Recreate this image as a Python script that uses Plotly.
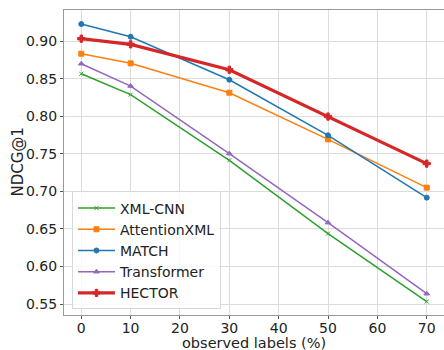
import plotly.graph_objects as go

x_labels = [0, 10, 30, 50, 70]
xml_cnn = [0.8565, 0.8286, 0.7413, 0.6437, 0.5533]
attention_xml = [0.8831, 0.8703, 0.8312, 0.7691, 0.7049]
match = [0.9226, 0.9057, 0.8485, 0.7745, 0.6916]
transformer = [0.8698, 0.8401, 0.7502, 0.6583, 0.5637]
hector = [0.9031, 0.8956, 0.8618, 0.7995, 0.7369]

series = [
    ("XML-CNN", xml_cnn, "#2ca02c", "x-thin-open", 1.5, 4),
    ("AttentionXML", attention_xml, "#ff7f0e", "square", 1.5, 5),
    ("MATCH", match, "#1f77b4", "circle", 1.5, 5),
    ("Transformer", transformer, "#9467bd", "triangle-up", 1.5, 5),
    ("HECTOR", hector, "#d62728", "cross", 3.2, 6),
]

fig = go.Figure()
for name, vals, color, sym, lw, ms in series:
    fig.add_trace(go.Scatter(
        x=x_labels, y=vals, name=name, mode="lines+markers",
        line=dict(color=color, width=lw),
        marker=dict(symbol=sym, size=ms, color=color, line=dict(color=color, width=1)),
    ))

font = "DejaVu Sans, sans-serif"
fig.update_layout(
    width=444, height=350,
    margin=dict(l=64, r=0, t=10, b=35, autoexpand=False),
    paper_bgcolor="white", plot_bgcolor="white",
    font=dict(family=font, size=14, color="#222"),
    legend=dict(
        x=0.021, y=0.405, xanchor="left", yanchor="top",
        bgcolor="rgba(255,255,255,0.8)", bordercolor="#d8d8d8", borderwidth=1,
        font=dict(size=14), itemwidth=37,
    ),
    showlegend=True,
    annotations=[
        dict(text="observed labels (%)", xref="paper", yref="paper", x=0.5, y=0,
             yshift=-28, xanchor="center", yanchor="middle", showarrow=False,
             font=dict(size=14.5)),
        dict(text="NDCG@1", xref="paper", yref="paper", x=0, y=0.5,
             xshift=-47, xanchor="center", yanchor="middle", showarrow=False,
             textangle=-90, font=dict(size=15)),
    ],
)
fig.update_xaxes(
    range=[-3.5, 73.5], tickvals=[0, 10, 20, 30, 40, 50, 60, 70],
    showgrid=True, gridcolor="#dcdcdc", gridwidth=1,
    showline=True, linecolor="#999999", linewidth=1.2, mirror=True,
    ticks="outside", ticklen=3, tickcolor="#555", ticklabelstandoff=-3,
    zeroline=False, automargin=False,
)
fig.update_yaxes(
    range=[0.5354, 0.9413], tickvals=[0.55, 0.60, 0.65, 0.70, 0.75, 0.80, 0.85, 0.90],
    tickformat=".2f",
    showgrid=True, gridcolor="#dcdcdc", gridwidth=1,
    showline=True, linecolor="#999999", linewidth=1.2, mirror=True,
    ticks="outside", ticklen=3, tickcolor="#555",
    zeroline=False, automargin=False,
)

fig.write_html("out.html", config={"displayModeBar": False},
               post_script="document.body.style.margin='0';document.body.style.overflow='hidden';")
